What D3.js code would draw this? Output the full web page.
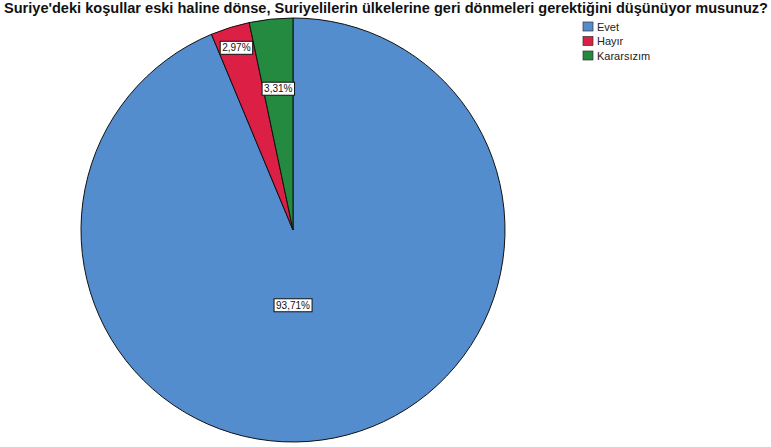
<!DOCTYPE html>
<html><head><meta charset="utf-8">
<script src="https://cdn.jsdelivr.net/npm/d3@7"></script>
<style>body{margin:0;background:#fff}</style>
</head><body>
<svg id="c" width="771" height="447"></svg>
<script>
const categories = ["Evet", "Hayır", "Kararsızım"];
const values = [93.71, 2.97, 3.31];
const labels = ["93,71%", "2,97%", "3,31%"];
const colors = ["#548dcd", "#dc1f45", "#238a40"];
const title = "Suriye'deki koşullar eski haline dönse, Suriyelilerin ülkelerine geri dönmeleri gerektiğini düşünüyor musunuz?";

const svg = d3.select("#c");
const font = "'Liberation Sans Narrow','Liberation Sans',Arial,sans-serif";
const cx = 293, cy = 230, R = 212;

svg.append("text").attr("x", 4).attr("y", 13)
  .attr("font-family", font).attr("font-weight", "bold").attr("font-size", 14)
  .attr("textLength", 764).attr("lengthAdjust", "spacingAndGlyphs")
  .attr("fill", "#111").text(title);

const pie = d3.pie().sort(null).value(d => d)(values);
const arc = d3.arc().innerRadius(0).outerRadius(R);
const g = svg.append("g").attr("transform", `translate(${cx},${cy})`);
g.selectAll("path").data(pie).join("path")
  .attr("d", arc).attr("fill", (d, i) => colors[i])
  .attr("stroke", "#111").attr("stroke-width", 1);

const labelR = [0.355, 0.9, 0.67];
labels.forEach((t, i) => {
  const d = pie[i];
  let a = (d.startAngle + d.endAngle) / 2;
  if (i === 0) a = Math.PI;
  const x = Math.sin(a) * R * labelR[i], y = -Math.cos(a) * R * labelR[i];
  const lg = g.append("g").attr("transform", `translate(${x},${y})`);
  const tx = lg.append("text").attr("text-anchor", "middle").attr("dy", "0.35em")
    .attr("font-family", font).attr("font-size", 10).attr("fill", "#111").text(t);
  const bb = tx.node().getBBox();
  lg.insert("rect", "text").attr("x", bb.x - 2).attr("y", bb.y - 1)
    .attr("width", bb.width + 4).attr("height", bb.height + 2)
    .attr("fill", "#fff").attr("stroke", "#111").attr("stroke-width", 1);
});

const leg = svg.append("g").attr("transform", "translate(583,22)");
categories.forEach((c, i) => {
  const r = leg.append("g").attr("transform", `translate(0,${i * 14.5})`);
  r.append("rect").attr("width", 10).attr("height", 9)
    .attr("fill", colors[i]).attr("stroke", "#333").attr("stroke-width", 0.7);
  r.append("text").attr("x", 14).attr("y", 8.5)
    .attr("font-family", font).attr("font-size", 11).attr("fill", "#222").text(c);
});
</script>
</body></html>
